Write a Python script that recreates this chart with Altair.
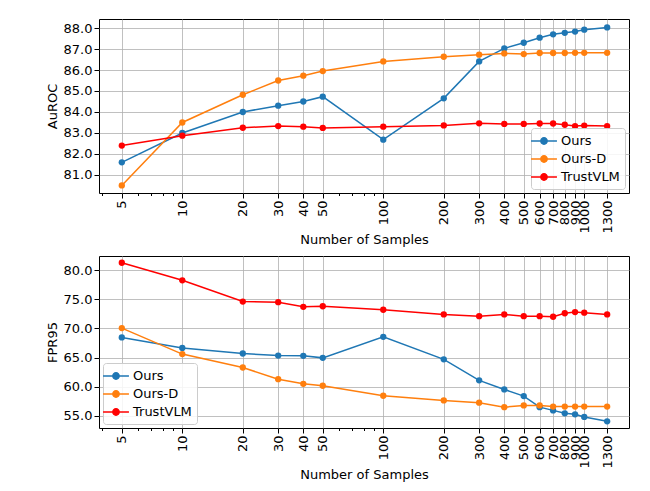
import altair as alt
import pandas as pd

samples = [5, 10, 20, 30, 40, 50, 100, 200, 300, 400, 500, 600, 700, 800, 900, 1000, 1300]
methods = ["Ours", "Ours-D", "TrustVLM"]
colors = ["#1f77b4", "#ff7f0e", "#ff0000"]

auroc_ours = [81.6, 83.0, 84.0, 84.3, 84.5, 84.73, 82.68, 84.65, 86.41, 87.03, 87.3, 87.54, 87.7, 87.77, 87.83, 87.92, 88.03]
auroc_oursd = [80.5, 83.5, 84.82, 85.5, 85.73, 85.95, 86.41, 86.63, 86.73, 86.79, 86.76, 86.81, 86.81, 86.81, 86.82, 86.82, 86.82]
auroc_trust = [82.4, 82.87, 83.25, 83.33, 83.3, 83.24, 83.3, 83.36, 83.46, 83.43, 83.43, 83.45, 83.45, 83.39, 83.33, 83.35, 83.33]

fpr_ours = [68.46, 66.64, 65.7, 65.34, 65.3, 64.95, 68.56, 64.7, 61.1, 59.54, 58.4, 56.5, 55.95, 55.45, 55.28, 54.83, 54.08]
fpr_oursd = [70.05, 65.6, 63.3, 61.3, 60.5, 60.17, 58.46, 57.66, 57.27, 56.5, 56.8, 56.8, 56.6, 56.6, 56.6, 56.6, 56.6]
fpr_trust = [81.25, 78.24, 74.6, 74.5, 73.7, 73.8, 73.2, 72.4, 72.1, 72.4, 72.1, 72.1, 72.0, 72.6, 72.8, 72.7, 72.4]

minor_ticks = [4, 6, 7, 8, 9, 60, 70, 80, 90]
auroc_ticks = [81, 82, 83, 84, 85, 86, 87, 88]
fpr_ticks = [55, 60, 65, 70, 75, 80]

FONT = "DejaVu Sans"
SYMBOL = "M-1.85,0L1.85,0M-0.45,0A0.45,0.45,0,1,0,0.45,0A0.45,0.45,0,1,0,-0.45,0Z"


def make_df(series):
    rows = []
    for m, vals in zip(methods, series):
        for s, v in zip(samples, vals):
            rows.append({"samples": s, "value": v, "method": m})
    return pd.DataFrame(rows)


def panel(series, ytitle, ydomain, yticks, legend_orient, height):
    df = make_df(series)
    xscale = alt.Scale(type="log", domain=[3.85, 1670], nice=False)
    yscale = alt.Scale(domain=ydomain, nice=False, zero=False)
    leg = alt.Legend(
        title=None,
        orient=legend_orient,
        offset=4,
        symbolType=SYMBOL,
        symbolSize=196,
        symbolStrokeWidth=1.5,
        labelFontSize=13,
        labelFont=FONT,
        labelColor="#000000",
        labelOffset=9,
        fillColor="rgba(255,255,255,0.85)",
        strokeColor="#cccccc",
        cornerRadius=3,
        padding=5,
        rowPadding=3,
    )
    cscale = alt.Scale(domain=methods, range=colors)
    x_main = alt.X(
        "samples:Q",
        scale=xscale,
        axis=alt.Axis(
            values=samples,
            format="d",
            labelAngle=270,
            labelOverlap=False,
            labelFlush=False,
            title="Number of Samples",
            grid=True,
            tickSize=5,
            labelPadding=2,
            titlePadding=0,
            orient="bottom",
        ),
    )
    x_plain = alt.X("samples:Q", scale=xscale, axis=None)
    y = alt.Y(
        "value:Q",
        scale=yscale,
        axis=alt.Axis(values=yticks, format=".1f", title=ytitle, tickSize=5, labelPadding=2, titlePadding=4),
    )
    lines = alt.Chart(df).mark_line(strokeWidth=1.5).encode(
        x=x_main, y=y, stroke=alt.Stroke("method:N", scale=cscale, legend=leg)
    )
    points = alt.Chart(df).mark_circle(size=40, opacity=1).encode(
        x=x_plain, y=y, fill=alt.Fill("method:N", scale=cscale, legend=leg)
    )
    minor = alt.Chart(pd.DataFrame({"samples": minor_ticks})).mark_point(opacity=0).encode(
        x=alt.X(
            "samples:Q",
            scale=xscale,
            axis=alt.Axis(values=minor_ticks, labels=False, title=None, grid=False, tickSize=2.5, domain=False, orient="bottom"),
        )
    )
    return (
        alt.layer(lines, points, minor)
        .resolve_axis(x="independent")
        .properties(width=530, height=height)
    )


top = panel([auroc_ours, auroc_oursd, auroc_trust], "AuROC", [80.14, 88.43], auroc_ticks, "bottom-right", 174)
bottom = panel([fpr_ours, fpr_oursd, fpr_trust], "FPR95", [52.93, 82.41], fpr_ticks, "bottom-left", 172)

chart = (
    alt.vconcat(top, bottom, spacing=8)
    .resolve_scale(stroke="independent", fill="independent")
    .properties(padding={"left": 37, "top": 10, "right": 5, "bottom": 5})
    .configure_view(stroke="#000000", strokeWidth=1)
    .configure_axis(
        labelFont=FONT,
        titleFont=FONT,
        labelFontSize=13,
        titleFontSize=13,
        titleFontWeight="normal",
        labelColor="#000000",
        titleColor="#000000",
        tickColor="#000000",
        domain=False,
        gridColor="#b0b0b0",
        gridWidth=0.8,
    )
)

chart.save("out.html", embed_options={"renderer": "svg", "actions": False})
